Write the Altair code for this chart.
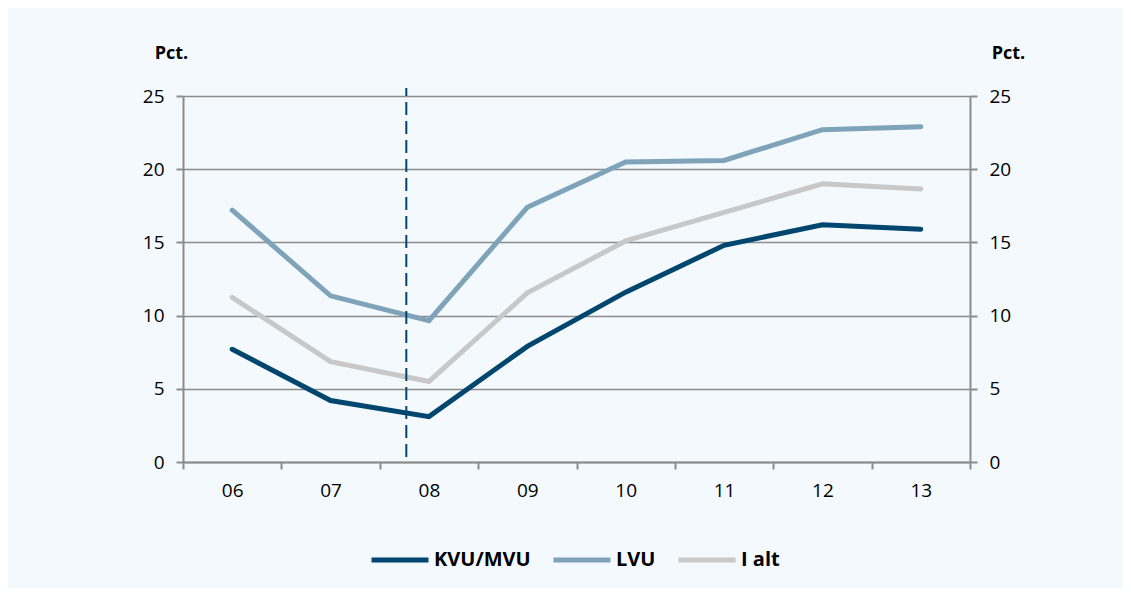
import json
import altair as alt
import pandas as pd

# ---- data ----
years = ["06", "07", "08", "09", "10", "11", "12", "13"]
kvu_mvu = [7.7, 4.2, 3.1, 7.9, 11.6, 14.8, 16.2, 15.9]
lvu = [17.2, 11.35, 9.65, 17.4, 20.5, 20.6, 22.7, 22.9]
i_alt = [11.25, 6.85, 5.5, 11.55, 15.1, 17.05, 19.0, 18.65]
series_names = ["KVU/MVU", "LVU", "I alt"]
series_colors = ["#00466e", "#7fa3b8", "#c8c8c8"]
break_position = 2.27          # dashed marker, in year-band units
break_span = [0.35, 25.55]      # vertical extent of the dashed marker (pct.)
y_ticks = [0, 5, 10, 15, 20, 25]

rows = []
for name, vals in zip(series_names, [kvu_mvu, lvu, i_alt]):
    for i, (yr, v) in enumerate(zip(years, vals)):
        rows.append({"serie": name, "year": yr, "pos": i + 0.5, "value": v})
df = pd.DataFrame(rows)
rule_df = pd.DataFrame({"pos": [break_position], "y1": [break_span[0]], "y2": [break_span[1]]})

FONT = "Open Sans"
GRAY = "#8c8c8c"
W, H = 787, 366

x_vals = [i / 2 for i in range(2 * len(years) + 1)]
label_expr = f"datum.value % 1 ? {json.dumps(years)}[floor(datum.value)] : ''"

x_scale = alt.Scale(domain=[0, len(years)], nice=False, zero=False)
y_scale = alt.Scale(domain=[0, 25], nice=False)

x_axis = alt.Axis(
    values=x_vals, labelExpr=label_expr, title=None, grid=False,
    domainColor=GRAY, domainWidth=2, tickColor=GRAY, tickWidth=2, tickSize=7,
    tickOpacity={"condition": {"test": "datum.value % 1 === 0", "value": 1}, "value": 0},
    labelFont=FONT, labelFontSize=19, labelColor="#000", labelPadding=12,
    labelOverlap=False, labelFlush=False,
)

def y_axis(orient, grid, title_x):
    return alt.Axis(
        orient=orient, values=y_ticks, grid=grid, gridColor=GRAY, gridWidth=1.5,
        domainColor=GRAY, domainWidth=2, tickColor=GRAY, tickWidth=2, tickSize=7,
        labelFont=FONT, labelFontSize=19, labelColor="#000", labelPadding=12,
        title="Pct.", titleAngle=0, titleX=title_x, titleY=-38, titleAlign="center",
        titleBaseline="alphabetic", titleFont=FONT, titleFontSize=18,
        titleFontWeight="bold", titleColor="#000",
    )

lines = alt.Chart(df).mark_line(strokeWidth=5, strokeCap="round").encode(
    x=alt.X("pos:Q", scale=x_scale, axis=x_axis),
    y=alt.Y("value:Q", scale=y_scale, axis=y_axis("left", True, -12)),
    color=alt.Color(
        "serie:N",
        scale=alt.Scale(domain=series_names, range=series_colors),
        legend=alt.Legend(
            orient="none", legendX=186, legendY=433, direction="horizontal",
            title=None, symbolType="stroke", symbolSize=3249, symbolStrokeWidth=5,
            labelFont=FONT, labelFontSize=20, labelFontWeight="bold", labelColor="#000",
            columnPadding=12, labelOffset=3,
        ),
    ),
    order=alt.Order("pos:Q"),
)

rule = alt.Chart(rule_df).mark_rule(color="#00466e", strokeWidth=2, strokeDash=[13, 6]).encode(
    x=alt.X("pos:Q", scale=x_scale),
    y=alt.Y("y1:Q", scale=y_scale, axis=y_axis("right", False, 38)),
    y2="y2:Q",
)

chart = (
    alt.layer(lines, rule)
    .resolve_axis(y="independent")
    .properties(
        width=W, height=H,
        autosize=alt.AutoSizeParams(type="none"),
        padding={"left": 175, "top": 88, "right": 153, "bottom": 126},
        background="#f4f9fd",
    )
    .configure_view(stroke=None)
)

chart.save("out.html", embed_options={"renderer": "svg", "actions": False})
